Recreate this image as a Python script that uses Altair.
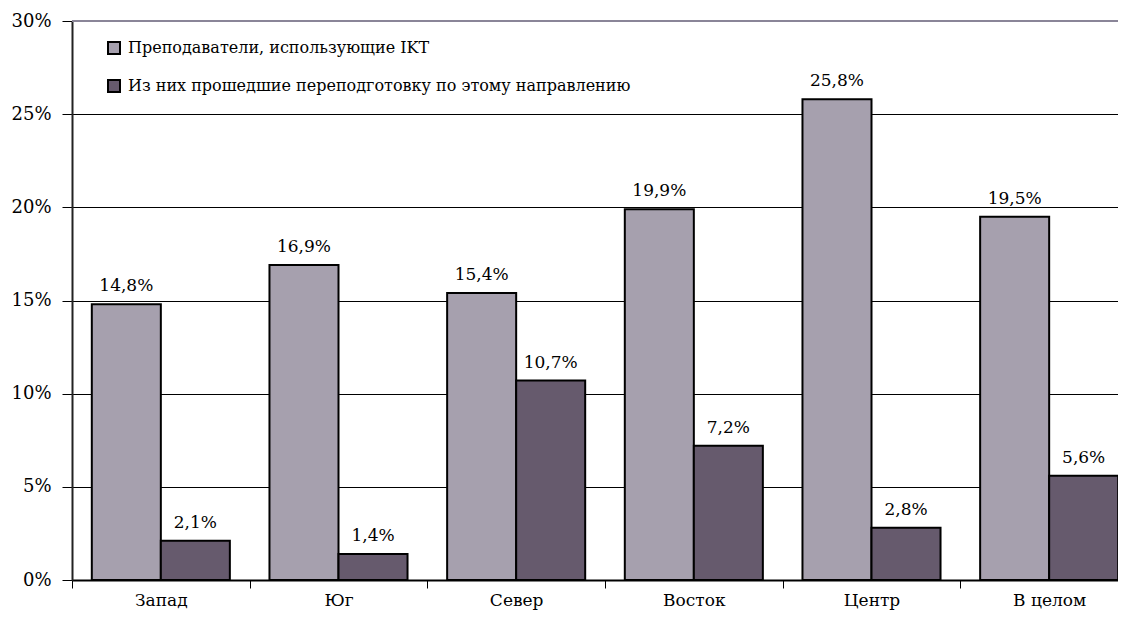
import altair as alt
import pandas as pd

regions = ["Запад", "Юг", "Север", "Восток", "Центр", "В целом"]
series_names = ["Преподаватели, использующие IKT",
                "Из них прошедшие переподготовку по этому направлению"]
teachers_ict = [14.8, 16.9, 15.4, 19.9, 25.8, 19.5]
retrained = [2.1, 1.4, 10.7, 7.2, 2.8, 5.6]
y_ticks = [0, 5, 10, 15, 20, 25, 30]
colors = ["#A6A0AE", "#665A6D"]

rows = []
for r, a, b in zip(regions, teachers_ict, retrained):
    rows.append({"region": r, "series": series_names[0], "value": a,
                 "label": f"{a:.1f}%".replace(".", ",")})
    rows.append({"region": r, "series": series_names[1], "value": b,
                 "label": f"{b:.1f}%".replace(".", ",")})
df = pd.DataFrame(rows)

FONT = "DejaVu Serif"

x_enc = alt.X("region:N", sort=regions, title=None,
              scale=alt.Scale(paddingInner=0, paddingOuter=0, range=[0, 1066]),
              axis=alt.Axis(labelAngle=0, tickBand="extent", grid=False,
                            domainColor="black", domainWidth=2, tickColor="black",
                            tickSize=8, tickWidth=1, labelPadding=4,
                            labelFont=FONT, labelFontSize=17, labelColor="black"))
xoff = alt.XOffset("series:N", sort=series_names,
                   scale=alt.Scale(paddingInner=0, paddingOuter=0.287))
y_enc = alt.Y("value:Q", title=None,
              scale=alt.Scale(domain=[0, 30], nice=False),
              axis=alt.Axis(values=y_ticks, labelExpr="datum.value + '%'",
                            grid=True, gridColor="black", gridWidth=1,
                            domainColor="#222222", domainWidth=2,
                            tickColor="black", tickSize=10, tickWidth=1,
                            labelPadding=11, labelFont=FONT, labelFontSize=18,
                            labelColor="black"))

bars = alt.Chart(df).mark_bar(stroke="black", strokeWidth=2).encode(
    x=x_enc,
    xOffset=xoff,
    y=y_enc,
    color=alt.Color("series:N", sort=series_names,
                    scale=alt.Scale(domain=series_names, range=colors),
                    legend=alt.Legend(title=None, orient="none", legendX=34, legendY=19,
                                      symbolType="square", symbolSize=144,
                                      symbolStrokeColor="black", symbolStrokeWidth=2,
                                      symbolOpacity=1, labelFont=FONT, labelFontSize=16,
                                      labelColor="black", labelOffset=6,
                                      rowPadding=18, labelLimit=700)),
)

texts = alt.Chart(df).mark_text(font=FONT, fontSize=17, baseline="alphabetic",
                                dy=-13, color="black").encode(
    x=alt.X("region:N", sort=regions),
    xOffset=alt.XOffset("series:N", sort=series_names),
    y="value:Q",
    text="label:N",
)

top_df = pd.DataFrame({"top": [30]})
top_line = alt.Chart(top_df).mark_rule(color="#8A8598", strokeWidth=2).encode(
    y="top:Q"
)

chart = alt.layer(bars, texts, top_line).properties(
    width=1046, height=559,
    autosize=alt.AutoSizeParams(type="none"),
    padding={"left": 64, "top": 13, "right": 0, "bottom": 48},
).configure_view(stroke=None).configure(background="white")

chart.save("out.html", embed_options={"renderer": "svg", "actions": False})
